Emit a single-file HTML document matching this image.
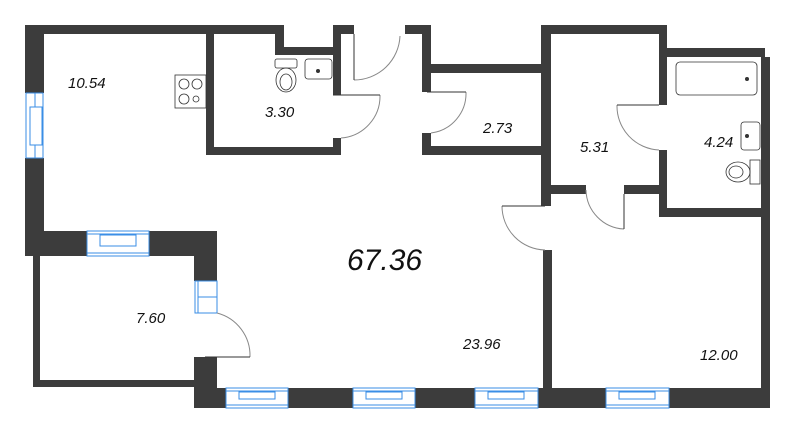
<!DOCTYPE html>
<html><head><style>html,body{margin:0;padding:0;background:#fff}svg{display:block}</style></head>
<body>
<svg width="800" height="433" viewBox="0 0 800 433" xmlns="http://www.w3.org/2000/svg">
<g fill="#3c3c3c">
<!-- left top -->
<rect x="25" y="25" width="259" height="9"/>
<rect x="25" y="25" width="19" height="68"/>
<rect x="25" y="158" width="19" height="98"/>
<rect x="25" y="231" width="62" height="25"/>
<rect x="149" y="231" width="68" height="25"/>
<rect x="194" y="231" width="23" height="50"/>
<rect x="194" y="357" width="23" height="51"/>
<!-- 7.60 thin walls -->
<rect x="33" y="256" width="7" height="131"/>
<rect x="33" y="380" width="161" height="7"/>
<!-- kitchen/bath -->
<rect x="206" y="34" width="8" height="121"/>
<rect x="206" y="147" width="135" height="8"/>
<rect x="275" y="25" width="9" height="30"/>
<rect x="275" y="47" width="66" height="8"/>
<rect x="333" y="25" width="8" height="70"/>
<rect x="333" y="138" width="8" height="17"/>
<rect x="333" y="25" width="21" height="9"/>
<!-- 2.73 -->
<rect x="405" y="25" width="26" height="9"/>
<rect x="422" y="25" width="9" height="67"/>
<rect x="422" y="64" width="129" height="9"/>
<rect x="422" y="133" width="9" height="22"/>
<rect x="422" y="146" width="129" height="9"/>
<!-- 5.31 -->
<rect x="541" y="25" width="126" height="9"/>
<rect x="541" y="25" width="10" height="181"/>
<rect x="541" y="185" width="45" height="9"/>
<rect x="624" y="185" width="43" height="9"/>
<rect x="659" y="25" width="8" height="80"/>
<rect x="659" y="150" width="8" height="67"/>
<!-- 4.24 -->
<rect x="659" y="48" width="106" height="9"/>
<rect x="659" y="208" width="111" height="9"/>
<rect x="761" y="57" width="9" height="351"/>
<!-- partition -->
<rect x="543" y="250" width="9" height="140"/>
<!-- bottom -->
<rect x="217" y="388" width="9" height="20"/>
<rect x="288" y="388" width="65" height="20"/>
<rect x="415" y="388" width="60" height="20"/>
<rect x="538" y="388" width="68" height="20"/>
<rect x="669" y="388" width="101" height="20"/>
</g>
<!-- windows -->
<g fill="#fff" stroke="#3a8ee6" stroke-width="1">
<rect x="26" y="93" width="17" height="65"/><line x1="35" y1="93" x2="35" y2="158"/><rect x="30" y="107" width="12" height="38"/>
<rect x="87" y="231" width="62" height="25"/><line x1="87" y1="234" x2="149" y2="234"/><line x1="87" y1="253" x2="149" y2="253"/><rect x="100" y="235" width="36" height="11"/>
<rect x="195" y="281" width="22" height="32"/><line x1="198" y1="281" x2="198" y2="313"/><line x1="198" y1="297" x2="217" y2="297"/>
<rect x="226" y="388" width="62" height="20"/><line x1="226" y1="391" x2="288" y2="391"/><line x1="226" y1="405" x2="288" y2="405"/><rect x="239" y="392" width="36" height="7"/>
<rect x="353" y="388" width="62" height="20"/><line x1="353" y1="391" x2="415" y2="391"/><line x1="353" y1="405" x2="415" y2="405"/><rect x="366" y="392" width="36" height="7"/>
<rect x="475" y="388" width="63" height="20"/><line x1="475" y1="391" x2="538" y2="391"/><line x1="475" y1="405" x2="538" y2="405"/><rect x="488" y="392" width="36" height="7"/>
<rect x="606" y="388" width="63" height="20"/><line x1="606" y1="391" x2="669" y2="391"/><line x1="606" y1="405" x2="669" y2="405"/><rect x="619" y="392" width="36" height="7"/>
</g>
<!-- doors -->
<g fill="none" stroke="#888" stroke-width="1">
<path d="M354 80 A46 46 0 0 0 400 36" /><line x1="354" y1="34" x2="354" y2="80" stroke="#333"/>
<path d="M380 95 A42 42 0 0 1 341 138"/><line x1="333" y1="95" x2="380" y2="95" stroke="#333"/>
<path d="M466 92 A40 40 0 0 1 431 133"/><line x1="427" y1="92" x2="466" y2="92" stroke="#333"/>
<path d="M617 105 A44 44 0 0 0 659 150"/><line x1="617" y1="105" x2="659" y2="105" stroke="#333"/>
<path d="M586 190 A40 40 0 0 0 624 229"/><line x1="624" y1="194" x2="624" y2="229" stroke="#333"/>
<path d="M502 206 A44 44 0 0 0 545 250"/><line x1="502" y1="206" x2="545" y2="206" stroke="#333"/>
<path d="M217 313 A44 44 0 0 1 250 357"/><line x1="205" y1="357" x2="250" y2="357" stroke="#333"/>
</g>
<!-- fixtures -->
<g fill="none" stroke="#333" stroke-width="0.8">
<rect x="175" y="75" width="31" height="33"/>
<circle cx="184" cy="84" r="5"/><circle cx="197" cy="84" r="5"/><circle cx="184" cy="99" r="5"/><circle cx="196" cy="99" r="3"/>
<rect x="275" y="59" width="22" height="9" rx="2"/><ellipse cx="286" cy="80" rx="10" ry="12"/><ellipse cx="286" cy="82" rx="6" ry="8"/>
<rect x="305" y="59" width="27" height="20" rx="3"/>
<rect x="676" y="62" width="81" height="33" rx="4"/>
<rect x="741" y="122" width="19" height="28" rx="3"/>
<rect x="750" y="160" width="10" height="24"/><ellipse cx="738" cy="172" rx="12" ry="10"/><ellipse cx="736" cy="172" rx="7" ry="6"/>
</g>
<g fill="#333"><circle cx="318" cy="71" r="2"/><circle cx="747" cy="79" r="2"/><circle cx="747" cy="136" r="2"/></g>
<g font-family="'Liberation Sans',sans-serif" font-style="italic" fill="#111" font-size="15">
<text x="68" y="88">10.54</text>
<text x="265" y="117">3.30</text>
<text x="483" y="133">2.73</text>
<text x="580" y="152">5.31</text>
<text x="704" y="147">4.24</text>
<text x="136" y="323">7.60</text>
<text x="463" y="349">23.96</text>
<text x="700" y="360">12.00</text>
<text x="347" y="270" font-size="30">67.36</text>
</g>
</svg>
</body></html>
